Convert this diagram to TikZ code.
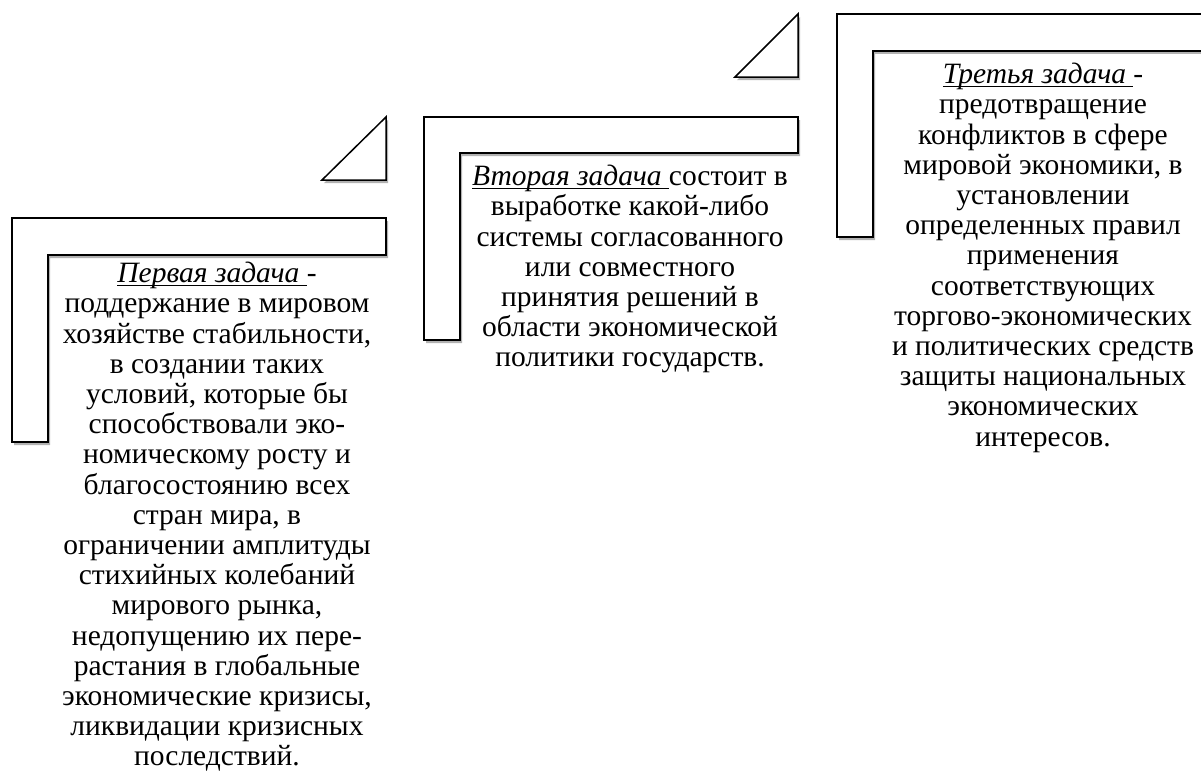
\documentclass[tikz,border=0pt]{standalone}
\usepackage{fontspec}
\setmainfont{Liberation Serif}
\usetikzlibrary{shadows, positioning}
\newcommand{\taskname}[1]{\setbox0\hbox{\textit{#1} }\rlap{\rule[-3pt]{\wd0}{1pt}}\box0}

\begin{document}
\begin{tikzpicture}[
    x=1pt, y=-1pt,
    stair/.style={draw=black, line width=1.5pt, fill=white, line join=miter,
        drop shadow={shadow xshift=2pt, shadow yshift=-3pt, opacity=0.3, fill=black}},
    corner/.style={stair},
    task/.style={align=center, inner sep=0pt, anchor=north, font=\fontsize{29.5}{30.2}\selectfont}
]
\useasboundingbox (0,0) rectangle (1201,776);
\clip (0,0) rectangle (1201,776);

% Steps
\draw[stair] (12,218) -- (386,218) -- (386,255) -- (48,255) -- (48,442) -- (12,442) -- cycle;
\draw[stair] (424,117) -- (798,117) -- (798,153) -- (460,153) -- (460,340) -- (424,340) -- cycle;
\draw[stair] (837,14) -- (1211,14) -- (1211,51) -- (873,51) -- (873,237) -- (837,237) -- cycle;

% Corners
\draw[corner] (322,180) -- (386,180) -- (386,117) -- cycle;
\draw[corner] (735,77) -- (798,77) -- (798,14) -- cycle;

% Tasks
\node[task] (first) at (217,262) {\taskname{Первая задача}-\\
    поддержание в мировом\\ хозяйстве стабильности,\\ в создании таких\\
    условий, которые бы\\ способствовали эко-\\ номическому росту и\\
    благосостоянию всех\\ стран мира, в\\ ограничении амплитуды\\
    стихийных колебаний\\ мирового рынка,\\ недопущению их пере-\\
    растания в глобальные\\ экономические кризисы,\\ ликвидации кризисных\\
    последствий.};
\node[task] (second) at (630,165) {\taskname{Вторая задача}состоит в\\
    выработке какой-либо\\ системы согласованного\\ или совместного\\
    принятия решений в\\ области экономической\\ политики государств.};
\node[task] (third) at (1043,63) {\taskname{Третья задача}-\\
    предотвращение\\ конфликтов в сфере\\ мировой экономики, в\\
    установлении\\ определенных правил\\ применения\\ соответствующих\\
    торгово-экономических\\ и политических средств\\ защиты национальных\\
    экономических\\ интересов.};

\end{tikzpicture}
\end{document}
